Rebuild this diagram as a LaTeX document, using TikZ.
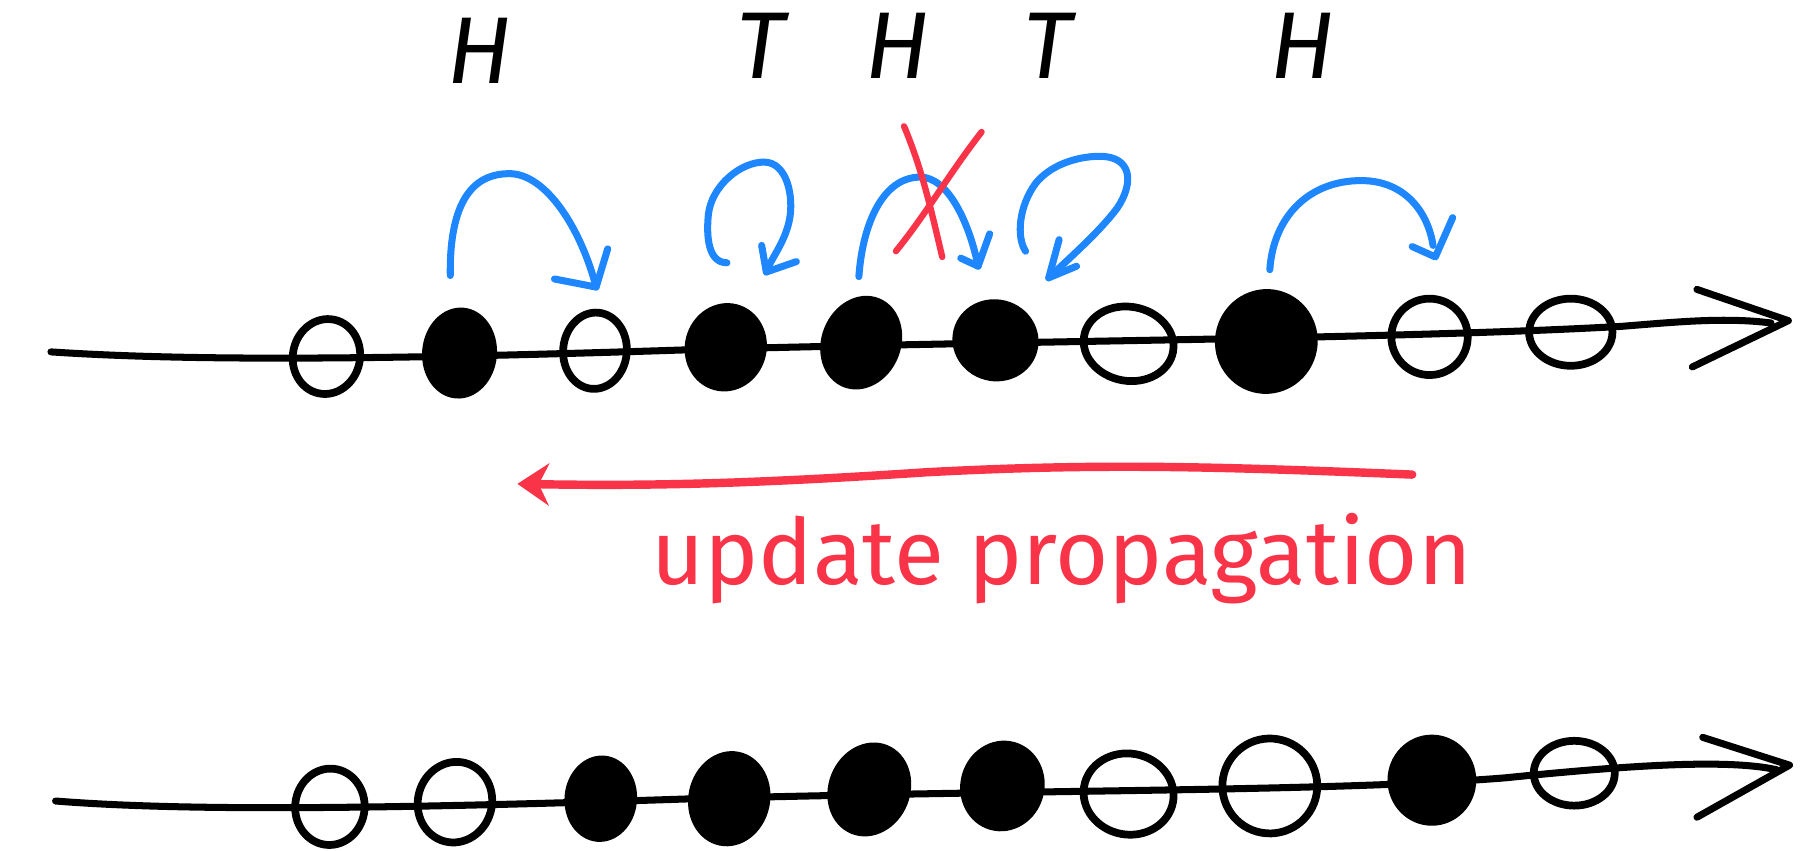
\documentclass[tikz,border=0pt]{standalone}
\usepackage{fontspec}
\newfontfamily\handfont{Fira Sans}
\usetikzlibrary{shapes.geometric,arrows.meta,calc}
\definecolor{penblue}{RGB}{30,134,255}
\definecolor{penred}{RGB}{250,52,72}
\newdimen\un \un=0.011575cm
\begin{document}
\begin{tikzpicture}[x=0.011575cm,y=-0.011575cm,
  axisline/.style={line width=2pt,line cap=round,line join=round},
  bead/.style={ellipse,draw,line width=2.2pt,inner sep=0pt},
  openbead/.style={bead},
  fullbead/.style={bead,fill=black},
  hop/.style={draw=penblue,line width=2pt,line cap=round,line join=round},
  redpen/.style={draw=penred,line width=1.8pt,line cap=round},
  coin/.style={font=\handfont\itshape\fontsize{27}{30}\selectfont,anchor=base,inner sep=0pt},
]
\useasboundingbox (0,0) rectangle (1568,735);

% ---------- top row ----------
\coordinate (ta) at (44,304);
\coordinate (tb) at (1530,279);
\coordinate (tt) at (1545,277);
\draw[axisline] (ta) .. controls (150,311) and (300,312) .. (600,302)
  .. controls (900,294) and (1200,293) .. (1400,282)
  .. controls (1450,278) and (1490,274) .. (tb);
\draw[axisline] (1466,250) -- (tt) -- (1462,317);

\node[openbead,minimum width=58\un,minimum height=65\un,rotate=-12] (t1) at (282,308) {};
\node[fullbead,minimum width=58\un,minimum height=72\un,rotate=-5] (t2) at (397,305) {};
\node[openbead,minimum width=55\un,minimum height=66\un,rotate=-5] (t3) at (514,303) {};
\node[fullbead,minimum width=64\un,minimum height=70\un,rotate=-15] (t4) at (627,300) {};
\node[fullbead,minimum width=62\un,minimum height=76\un,rotate=-22] (t5) at (744,296) {};
\node[fullbead,minimum width=68\un,minimum height=64\un,rotate=-15] (t6) at (860,294) {};
\node[openbead,minimum width=78\un,minimum height=64\un,rotate=-10] (t7) at (975,297) {};
\node[fullbead,minimum width=82\un,minimum height=84\un,rotate=-15] (t8) at (1094,295) {};
\node[openbead,minimum width=66\un,minimum height=66\un,rotate=-5] (t9) at (1235,291) {};
\node[openbead,minimum width=72\un,minimum height=58\un] (t10) at (1357,287) {};

% coin letters
\node[coin] (c1) at (414,72) {H};
\node[coin] (c2) at (657,68) {T};
\node[coin] (c3) at (775,68) {H};
\node[coin] (c4) at (905,68) {T};
\node[coin] (c5) at (1125,68) {H};

% blue hops
\coordinate (a1s) at (389,238); \coordinate (a1e) at (515,248);
\draw[hop] (a1s) .. controls (388,165) and (415,150) .. (440,150)
  .. controls (472,150) and (502,198) .. (a1e);
\draw[hop] ($(a1e)+(-36,-7)$) -- (a1e) -- ++(10,-33);

\coordinate (a2s) at (628,227); \coordinate (a2e) at (662,235);
\draw[hop] (a2s) .. controls (612,227) and (610,205) .. (612,185)
  .. controls (615,160) and (640,140) .. (660,140)
  .. controls (680,140) and (686,170) .. (682,190)
  .. controls (678,210) and (665,225) .. (a2e);
\draw[hop] ($(a2e)+(-4,-23)$) -- (a2e) -- ++(26,-9);

\coordinate (a3s) at (742,239); \coordinate (a3e) at (845,230);
\draw[hop] (a3s) .. controls (745,195) and (762,153) .. (795,153)
  .. controls (820,153) and (838,195) .. (a3e);
\draw[hop] ($(a3e)+(-15,-7)$) -- (a3e) -- ++(10,-28);

\coordinate (a4s) at (886,217); \coordinate (a4e) at (906,240);
\draw[hop] (a4s) .. controls (878,205) and (880,178) .. (895,158)
  .. controls (910,140) and (935,135) .. (950,135)
  .. controls (978,135) and (980,158) .. (965,180)
  .. controls (950,200) and (925,222) .. (a4e);
\draw[hop] ($(a4e)+(9,-33)$) -- (a4e) -- ++(24,-10);

\coordinate (a5s) at (1097,233); \coordinate (a5e) at (1240,222);
\draw[hop] (a5s) .. controls (1100,188) and (1130,156) .. (1176,156)
  .. controls (1215,156) and (1234,185) .. (1238,212);
\draw[hop] ($(a5e)+(-20,-9)$) -- (a5e) -- ++(15,-34);

% red cross
\coordinate (x1a) at (781,109); \coordinate (x1b) at (814,222);
\coordinate (x2a) at (848,114); \coordinate (x2b) at (774,217);
\draw[redpen] (x1a) .. controls (796,145) and (803,175) .. (x1b);
\draw[redpen] (x2a) .. controls (820,150) and (800,185) .. (x2b);

% ---------- update propagation ----------
\coordinate (ra) at (1220,410);
\coordinate (rb) at (447,418);
\draw[draw=penred,line width=2.4pt,line cap=round,-{Stealth[length=9pt,width=12pt]}]
  (ra) .. controls (1050,403) and (950,400) .. (800,408)
  .. controls (650,418) and (560,420) .. (rb);
\node[anchor=base,inner sep=0pt,text=penred,font=\handfont\fontsize{26}{28}\selectfont]
  (lbl) at (917,505) {update propagation};

% ---------- bottom row ----------
\coordinate (ba) at (48,692);
\coordinate (bb) at (1535,665);
\coordinate (bt) at (1546,661);
\draw[axisline] (ba) .. controls (150,700) and (300,700) .. (600,690)
  .. controls (900,682) and (1150,684) .. (1300,672)
  .. controls (1400,662) and (1490,655) .. (bb);
\draw[axisline] (1471,637) -- (bt) -- (1466,706);

\node[openbead,minimum width=60\un,minimum height=66\un,rotate=-5] (b1) at (285,697) {};
\node[openbead,minimum width=64\un,minimum height=70\un,rotate=-15] (b2) at (393,693) {};
\node[fullbead,minimum width=56\un,minimum height=68\un,rotate=-5] (b3) at (519,690) {};
\node[fullbead,minimum width=64\un,minimum height=76\un,rotate=-12] (b4) at (630,690) {};
\node[fullbead,minimum width=64\un,minimum height=76\un,rotate=-22] (b5) at (751,682) {};
\node[fullbead,minimum width=66\un,minimum height=72\un,rotate=-15] (b6) at (866,679) {};
\node[openbead,minimum width=78\un,minimum height=70\un,rotate=-10] (b7) at (975,686) {};
\node[openbead,minimum width=82\un,minimum height=82\un,rotate=-10] (b8) at (1097,679) {};
\node[fullbead,minimum width=70\un,minimum height=72\un] (b9) at (1237,674) {};
\node[openbead,minimum width=70\un,minimum height=56\un] (b10) at (1360,668) {};
\end{tikzpicture}
\end{document}
